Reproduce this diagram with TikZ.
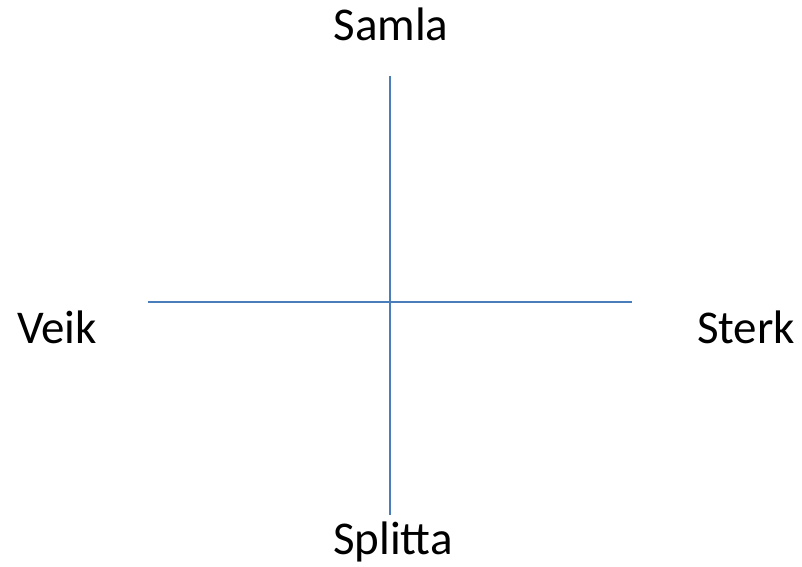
\documentclass[tikz,border=0pt]{standalone}
\usepackage{fontspec}
\setmainfont{Carlito}
\definecolor{axisblue}{HTML}{4A7EBB}
\begin{document}
\begin{tikzpicture}[x=1pt,y=-1pt,
  axis/.style={draw=axisblue,line width=1.3pt},
  lbl/.style={font=\fontsize{47}{54}\selectfont,inner sep=0pt,anchor=base}]
\useasboundingbox (0,0) rectangle (802,566);
\coordinate (top) at (390,76);
\coordinate (bot) at (390,515);
\coordinate (left) at (148,302);
\coordinate (right) at (632,302);
\draw[axis] (top) -- (bot);
\draw[axis] (left) -- (right);
\node[lbl] (samla) at (391,40) {Samla};
\node[lbl] (splitta) at (393,554) {Splitta};
\node[lbl] (veik) at (57,343) {Veik};
\node[lbl] (sterk) at (746,343) {Sterk};
\end{tikzpicture}
\end{document}
